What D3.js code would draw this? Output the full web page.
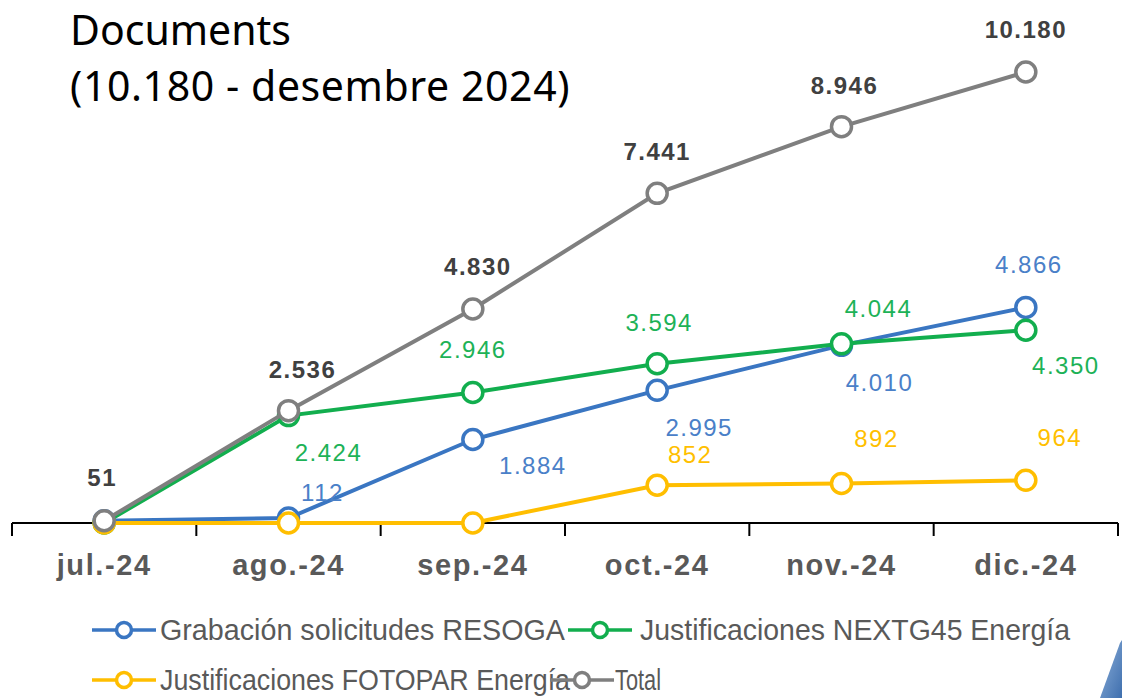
<!DOCTYPE html>
<html>
<head>
<meta charset="utf-8">
<script src="https://cdn.jsdelivr.net/npm/d3@7"></script>
<style>
  body { margin: 0; background: #fff; }
  svg { display: block; }
  text { font-family: "Liberation Sans", Arial, sans-serif; }
</style>
</head>
<body>
<script>
// chart data
var months = ["jul.-24", "ago.-24", "sep.-24", "oct.-24", "nov.-24", "dic.-24"];
var resoga = [51, 112, 1884, 2995, 4010, 4866];
var nextg45 = [0, 2424, 2946, 3594, 4044, 4350];
var fotopar = [0, 0, 0, 852, 892, 964];
var total = [51, 2536, 4830, 7441, 8946, 10180];
var seriesNames = ["Grabación solicitudes RESOGA", "Justificaciones NEXTG45 Energía",
                   "Justificaciones FOTOPAR Energía", "Total"];
var titleLines = ["Documents", "(10.180 - desembre 2024)"];

// label offsets from the point, index-matched (null = no label)
var labelPos = {
  resoga:  [null, [34, -17], [60, 34], [42, 46], [38, 46], [3, -34]],
  nextg45: [null, [40, 45], [0, -34], [2, -33], [37, -27], [40, 44]],
  fotopar: [null, null, null, [33, -22], [35, -36], [34, -34]],
  total:   [[-2, -35], [14, -33], [5, -34], [0, -33], [3, -33], [0, -34]]
};

var width = 1122, height = 698;

var svg = d3.select("body").append("svg")
  .attr("width", width)
  .attr("height", height);

var x = d3.scaleBand().domain(months).range([12, 1118]).padding(0);
var y = d3.scaleLinear().domain([0, d3.max(total)]).range([523, 72]);
var cx = function(i) { return x(months[i]) + x.bandwidth() / 2; };

var fmt = function(v) { return d3.format(",")(v).replace(/,/g, "."); };

// title
svg.append("g").selectAll("text")
  .data(titleLines)
  .enter().append("text")
  .attr("x", 70)
  .attr("y", function(d, i) { return 45 + i * 56; })
  .style("font-family", "'Noto Sans', sans-serif")
  .style("font-size", "41px")
  .style("letter-spacing", function(d, i) { return i ? "0.6px" : "0px"; })
  .attr("fill", "#000")
  .text(function(d) { return d; });

// x axis
var xAxis = d3.axisBottom(x).tickSize(0).tickPadding(0);
var axisG = svg.append("g")
  .attr("transform", "translate(0," + 523 + ")")
  .call(xAxis);
axisG.select(".domain").remove();
axisG.append("line")
  .attr("x1", 12).attr("x2", 1118)
  .attr("stroke", "#000").attr("stroke-width", 2);
axisG.selectAll(".edge")
  .data(months.concat(["end"]))
  .enter().append("line")
  .attr("class", "edge")
  .attr("x1", function(d, i) { return i < months.length ? x(d) : x.range()[1]; })
  .attr("x2", function(d, i) { return i < months.length ? x(d) : x.range()[1]; })
  .attr("y1", 0).attr("y2", 13)
  .attr("stroke", "#000").attr("stroke-width", 2);
axisG.selectAll(".tick text")
  .attr("y", 52)
  .attr("dy", null)
  .style("font-family", "'Liberation Sans', Arial, sans-serif")
  .style("font-size", "29px")
  .style("font-weight", "bold")
  .style("letter-spacing", "1.6px")
  .attr("fill", "#595959");

// series, in drawing order
var series = [
  { key: "resoga", name: seriesNames[0], values: resoga, color: "#3A76C2", labelColor: "#4A80C8", bold: false },
  { key: "nextg45", name: seriesNames[1], values: nextg45, color: "#12AE4E", labelColor: "#1DB257", bold: false },
  { key: "fotopar", name: seriesNames[2], values: fotopar, color: "#FFBE00", labelColor: "#FFBF00", bold: false },
  { key: "total", name: seriesNames[3], values: total, color: "#7F7F7F", labelColor: "#404040", bold: true }
];

var line = d3.line()
  .x(function(d, i) { return cx(i); })
  .y(function(d) { return y(d); });

series.forEach(function(s) {
  var g = svg.append("g");
  g.append("path")
    .attr("d", line(s.values))
    .attr("fill", "none")
    .attr("stroke", s.color)
    .attr("stroke-width", 4);
  g.selectAll("circle")
    .data(s.values)
    .enter().append("circle")
    .attr("cx", function(d, i) { return cx(i); })
    .attr("cy", function(d) { return y(d); })
    .attr("r", 10)
    .attr("fill", "#fff")
    .attr("stroke", s.color)
    .attr("stroke-width", 3.5);
});

// data labels on top
series.forEach(function(s) {
  var pts = s.values
    .map(function(v, i) { return { v: v, i: i, off: labelPos[s.key][i] }; })
    .filter(function(p) { return p.off !== null; });
  svg.append("g").selectAll("text")
    .data(pts)
    .enter().append("text")
    .attr("x", function(p) { return cx(p.i) + p.off[0]; })
    .attr("y", function(p) { return y(p.v) + p.off[1]; })
    .attr("text-anchor", "middle")
    .style("font-size", "24px")
    .style("font-weight", s.bold ? "bold" : "normal")
    .style("letter-spacing", "1.5px")
    .attr("fill", s.labelColor)
    .text(function(p) { return fmt(p.v); });
});

// legend (condensed text, widths as in the original)
var legendItems = [
  { s: series[0], x: 92, y: 630, tx: 68, w: 405 },
  { s: series[1], x: 568, y: 630, tx: 72, w: 430 },
  { s: series[2], x: 92, y: 680, tx: 68, w: 410 },
  { s: series[3], x: 550, y: 680, tx: 65, w: 46 }
];
var lg = svg.append("g").selectAll("g")
  .data(legendItems)
  .enter().append("g")
  .attr("transform", function(d) { return "translate(" + d.x + "," + d.y + ")"; });
lg.append("line")
  .attr("x1", 0).attr("x2", 64)
  .attr("stroke", function(d) { return d.s.color; })
  .attr("stroke-width", 3.5);
lg.append("circle")
  .attr("cx", 32).attr("r", 7.5)
  .attr("fill", "#fff")
  .attr("stroke", function(d) { return d.s.color; })
  .attr("stroke-width", 3.5);
lg.append("text")
  .attr("x", function(d) { return d.tx; })
  .attr("y", 10)
  .attr("textLength", function(d) { return d.w; })
  .attr("lengthAdjust", "spacingAndGlyphs")
  .style("font-family", "'Liberation Sans', Arial, sans-serif")
  .style("font-size", "29px")
  .attr("fill", "#595959")
  .text(function(d) { return d.s.name; });

// slide corner decoration
var grad = svg.append("defs").append("linearGradient")
  .attr("id", "corner").attr("x1", "0").attr("y1", "0").attr("x2", "1").attr("y2", "1");
grad.append("stop").attr("offset", "0").attr("stop-color", "#8DB0DA");
grad.append("stop").attr("offset", "1").attr("stop-color", "#3F6FAE");
svg.append("path")
  .attr("d", "M1120,643 L1122,640 L1122,698 L1100,698 Z")
  .attr("fill", "url(#corner)");
</script>
</body>
</html>
